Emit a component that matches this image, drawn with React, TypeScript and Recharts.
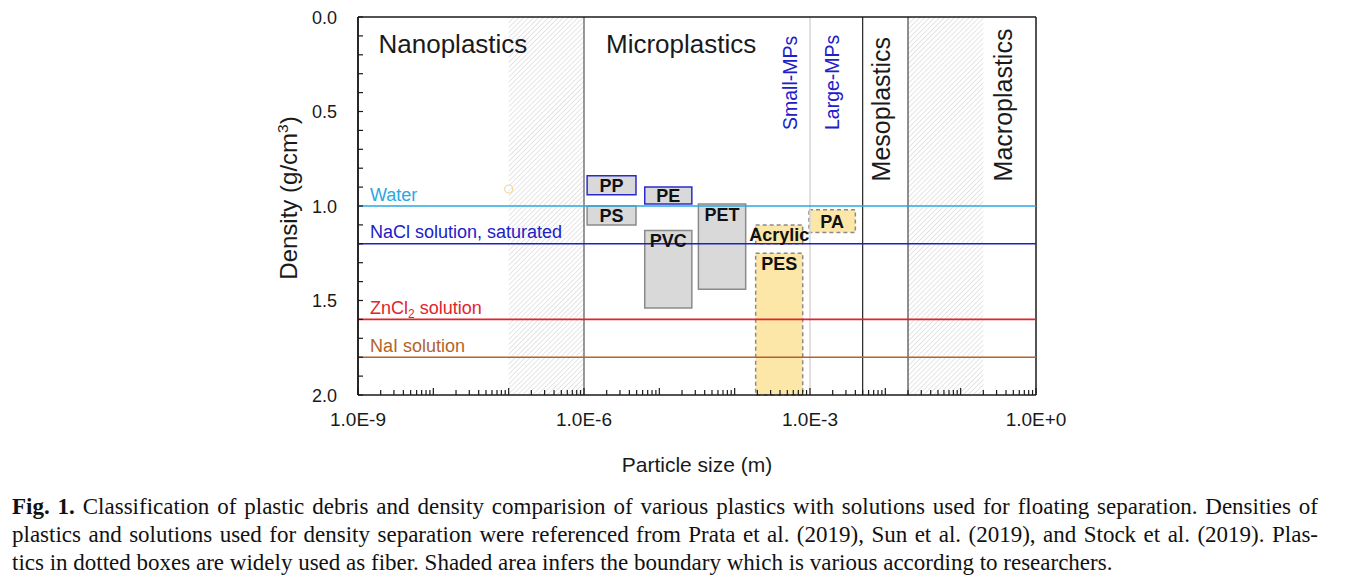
import React from "react";
import {
  ComposedChart,
  ReferenceArea,
  ReferenceLine,
  Scatter,
  XAxis,
  YAxis,
} from "recharts";

// particle size (m), log axis
const sizeDomain = [1e-9, 1];
const sizeTicks = [1e-9, 1e-6, 1e-3, 1];
const sizeTickLabels = ["1.0E-9", "1.0E-6", "1.0E-3", "1.0E+0"];

// density (g/cm3), drawn top-down
const densityDomain = [0, 2];
const densityTicks = [0, 0.5, 1, 1.5, 2];
const densityTickLabels = ["0.0", "0.5", "1.0", "1.5", "2.0"];

// plastics: size range and density range of each box
const plastics = ["PP", "PS", "PE", "PVC", "PET", "Acrylic", "PES", "PA"];
const plasticSizeMin = [1.1e-6, 1.1e-6, 6.4e-6, 6.4e-6, 3.3e-5, 1.9e-4, 1.9e-4, 9.7e-4];
const plasticSizeMax = [4.9e-6, 4.9e-6, 2.7e-5, 2.7e-5, 1.4e-4, 8.0e-4, 8.0e-4, 4.0e-3];
const plasticDensityMin = [0.84, 1.0, 0.9, 1.13, 0.99, 1.1, 1.25, 1.02];
const plasticDensityMax = [0.94, 1.1, 0.99, 1.54, 1.44, 1.2, 2.0, 1.14];
const fiberPlastics = ["Acrylic", "PES", "PA"];

// solutions used for density separation
const solutions = ["Water", "NaCl solution, saturated", "ZnCl2 solution", "NaI solution"];
const solutionDensity = [1.0, 1.2, 1.6, 1.8];

// size classes
const sizeClasses = ["Nanoplastics", "Microplastics", "Mesoplastics", "Macroplastics"];
const classBoundaries = [1e-6, 5e-3, 0.02];
const mpSubclasses = ["Small-MPs", "Large-MPs"];
const mpSubclassBoundary = 1e-3;
const shadedFrom = [1e-7, 0.02];
const shadedTo = [1e-6, 0.2];

// stray marker left in the original figure
const strayPoints = [{ size: 1e-7, density: 0.91 }];

const SOLUTION_COLORS: Record<string, string> = {
  Water: "#2AA8E0",
  "NaCl solution, saturated": "#2020C8",
  "ZnCl2 solution": "#E3232B",
  "NaI solution": "#B4632A",
};
const BLUE_OUTLINED = ["PP", "PE"];
const SANS = '"Liberation Sans", Arial, sans-serif';
const INK = "#1a1a1a";

// axis tick positions (minor ticks included)
const sizeAxisTicks: number[] = [];
for (let e = -9; e < 0; e++) {
  for (let m = 1; m <= 9; m++) sizeAxisTicks.push(m * Math.pow(10, e));
}
sizeAxisTicks.push(1);
const densityAxisTicks = Array.from({ length: 21 }, (_, i) => i / 10);

const SizeTick = (props: any) => {
  const { x, y, payload } = props;
  const lg = Math.log10(payload.value);
  const idx = sizeTicks.findIndex((t) => Math.abs(Math.log10(t) - lg) < 1e-6);
  const decade = Math.abs(lg - Math.round(lg)) < 1e-6;
  return (
    <g>
      <line x1={x} x2={x} y1={y} y2={y - (decade ? 7 : 5)} stroke={INK} strokeWidth={1.2} />
      {idx >= 0 && (
        <text x={x} y={y + 31} textAnchor="middle" fontSize={19} fontFamily={SANS} fill={INK}>
          {sizeTickLabels[idx]}
        </text>
      )}
    </g>
  );
};

const DensityTick = (props: any) => {
  const { x, y, payload } = props;
  const idx = densityTicks.findIndex((t) => Math.abs(t - payload.value) < 1e-6);
  return (
    <g>
      <line x1={x} x2={x + 5} y1={y} y2={y} stroke={INK} strokeWidth={1.2} />
      {idx >= 0 && (
        <text x={x - 21} y={y + 6.5} textAnchor="end" fontSize={18} fontFamily={SANS} fill={INK}>
          {densityTickLabels[idx]}
        </text>
      )}
    </g>
  );
};

const SizeTitle = ({ viewBox }: any) => (
  <text
    x={viewBox.x + viewBox.width / 2}
    y={viewBox.y + 77}
    textAnchor="middle"
    fontSize={21}
    fontFamily={SANS}
    fill={INK}
  >
    Particle size (m)
  </text>
);

const DensityTitle = ({ viewBox }: any) => (
  <text
    transform={`translate(${viewBox.x + 19},${viewBox.y + viewBox.height / 2 - 8}) rotate(-90)`}
    textAnchor="middle"
    fontSize={24}
    fontFamily={SANS}
    fill={INK}
  >
    Density (g/cm
    <tspan dy={-9} fontSize={15.5}>
      3
    </tspan>
    <tspan dy={9}>)</tspan>
  </text>
);

// class name next to a boundary line
const ClassLabel = ({ viewBox, text, dx, dy, vertical, size, color }: any) => {
  const x = viewBox.x + dx;
  const y = viewBox.y + dy;
  if (vertical) {
    return (
      <text transform={`translate(${x},${y}) rotate(-90)`} fontSize={size} fontFamily={SANS} fill={color}>
        {text}
      </text>
    );
  }
  return (
    <text x={x} y={y} fontSize={size} fontFamily={SANS} fill={color}>
      {text}
    </text>
  );
};

const SubclassLabels = ({ viewBox }: any) => (
  <g>
    <ClassLabel viewBox={viewBox} text={mpSubclasses[0]} dx={-12.7} dy={113} vertical size={19.5} color="#2020C8" />
    <ClassLabel viewBox={viewBox} text={mpSubclasses[1]} dx={29} dy={113} vertical size={19.5} color="#2020C8" />
  </g>
);

const SolutionLabel = ({ viewBox, name }: any) => {
  const m = name.match(/^(.*Cl)(\d)(.*)$/);
  return (
    <text x={viewBox.x + 12} y={viewBox.y - 5.5} fontSize={18} fontFamily={SANS} fill={SOLUTION_COLORS[name]}>
      {m ? (
        <>
          {m[1]}
          <tspan dy={4} fontSize={12}>
            {m[2]}
          </tspan>
          <tspan dy={-4}>{m[3]}</tspan>
        </>
      ) : (
        name
      )}
    </text>
  );
};

const StrayMarker = (props: any) => (
  <circle cx={props.cx} cy={props.cy} r={4} fill="none" stroke="#F2D69C" strokeWidth={1.2} />
);

function DensityChart() {
  return (
    <ComposedChart width={1336} height={480} margin={{ top: 9, right: 308, bottom: 0, left: 270 }}>
      <defs>
        <pattern id="hatch" width="3.5" height="3.5" patternUnits="userSpaceOnUse" patternTransform="rotate(45)">
          <line x1="0" y1="0" x2="0" y2="3.5" stroke="#c4c4c4" strokeWidth="0.9" />
        </pattern>
      </defs>
      <XAxis
        dataKey="size"
        type="number"
        scale="log"
        domain={sizeDomain}
        allowDataOverflow
        ticks={sizeAxisTicks}
        interval={0}
        tick={<SizeTick />}
        tickLine={false}
        tickSize={0}
        tickMargin={0}
        axisLine={{ stroke: INK, strokeWidth: 1.5 }}
        height={93}
        label={<SizeTitle />}
      />
      <YAxis
        dataKey="density"
        type="number"
        domain={densityDomain}
        reversed
        allowDataOverflow
        ticks={densityAxisTicks}
        interval={0}
        tick={<DensityTick />}
        tickLine={false}
        tickSize={0}
        tickMargin={0}
        axisLine={{ stroke: INK, strokeWidth: 1.5 }}
        width={80}
        label={<DensityTitle />}
      />

      {shadedFrom.map((from, i) => (
        <ReferenceArea
          key={`shade-${i}`}
          x1={from}
          x2={shadedTo[i]}
          y1={densityDomain[0]}
          y2={densityDomain[1]}
          fill="url(#hatch)"
          fillOpacity={1}
          stroke="none"
        />
      ))}

      {plastics.map((name, i) => {
        const fiber = fiberPlastics.includes(name);
        const tall = plasticDensityMax[i] - plasticDensityMin[i] > 0.3;
        return (
          <ReferenceArea
            key={name}
            x1={plasticSizeMin[i]}
            x2={plasticSizeMax[i]}
            y1={plasticDensityMin[i]}
            y2={plasticDensityMax[i]}
            fill={fiber ? "#FDE7A8" : "#D9D9D9"}
            fillOpacity={1}
            stroke={BLUE_OUTLINED.includes(name) ? "#2B2BCC" : "#8a8a8a"}
            strokeWidth={1.5}
            strokeDasharray={fiber ? "4 3" : undefined}
            label={{
              value: name,
              position: tall ? "insideTop" : "center",
              offset: 4,
              fontSize: 18,
              fontWeight: "bold",
              fontFamily: SANS,
              fill: "#111",
            }}
          />
        );
      })}

      <ReferenceLine
        x={mpSubclassBoundary}
        stroke="#d6d6d6"
        strokeWidth={1.5}
        label={<SubclassLabels />}
      />
      <ReferenceLine
        x={sizeDomain[0]}
        stroke={INK}
        strokeWidth={1.5}
        ifOverflow="visible"
        label={<ClassLabel text={sizeClasses[0]} dx={20.5} dy={36} size={26} color={INK} />}
      />
      <ReferenceLine
        x={classBoundaries[0]}
        stroke="#555"
        strokeWidth={1.2}
        label={<ClassLabel text={sizeClasses[1]} dx={22} dy={36} size={26} color={INK} />}
      />
      <ReferenceLine
        x={classBoundaries[1]}
        stroke="#222"
        strokeWidth={1.2}
        label={<ClassLabel text={sizeClasses[2]} dx={27} dy={164.4} vertical size={25} color={INK} />}
      />
      <ReferenceLine x={classBoundaries[2]} stroke="#444" strokeWidth={1.2} />
      <ReferenceLine
        x={sizeDomain[1]}
        stroke={INK}
        strokeWidth={1.5}
        ifOverflow="visible"
        label={<ClassLabel text={sizeClasses[3]} dx={-24.5} dy={164.4} vertical size={25} color={INK} />}
      />
      <ReferenceLine y={densityDomain[0]} stroke={INK} strokeWidth={1.5} ifOverflow="visible" />

      {solutions.map((name, i) => (
        <ReferenceLine
          key={name}
          y={solutionDensity[i]}
          stroke={SOLUTION_COLORS[name]}
          strokeWidth={1.6}
          label={<SolutionLabel name={name} />}
        />
      ))}

      <Scatter data={strayPoints} shape={<StrayMarker />} isAnimationActive={false} />
    </ComposedChart>
  );
}

const captionLine: React.CSSProperties = { textAlign: "justify", textAlignLast: "justify" };

export default function App() {
  return (
    <div style={{ position: "relative", width: 1336, height: 571, background: "#fff" }}>
      <DensityChart />
      <div
        style={{
          position: "absolute",
          left: 4,
          top: 485,
          width: 1306,
          fontFamily: '"Liberation Serif", "Times New Roman", serif',
          fontSize: 23,
          lineHeight: "28px",
          color: "#111",
        }}
      >
        <div style={captionLine}>
          <b>Fig. 1.</b> Classification of plastic debris and density comparision of various plastics with solutions
          used for floating separation. Densities of
        </div>
        <div style={captionLine}>
          plastics and solutions used for density separation were referenced from Prata et al. (2019), Sun et al.
          (2019), and Stock et al. (2019). Plas-
        </div>
        <div>
          tics in dotted boxes are widely used as fiber. Shaded area infers the boundary which is various according to
          researchers.
        </div>
      </div>
    </div>
  );
}
